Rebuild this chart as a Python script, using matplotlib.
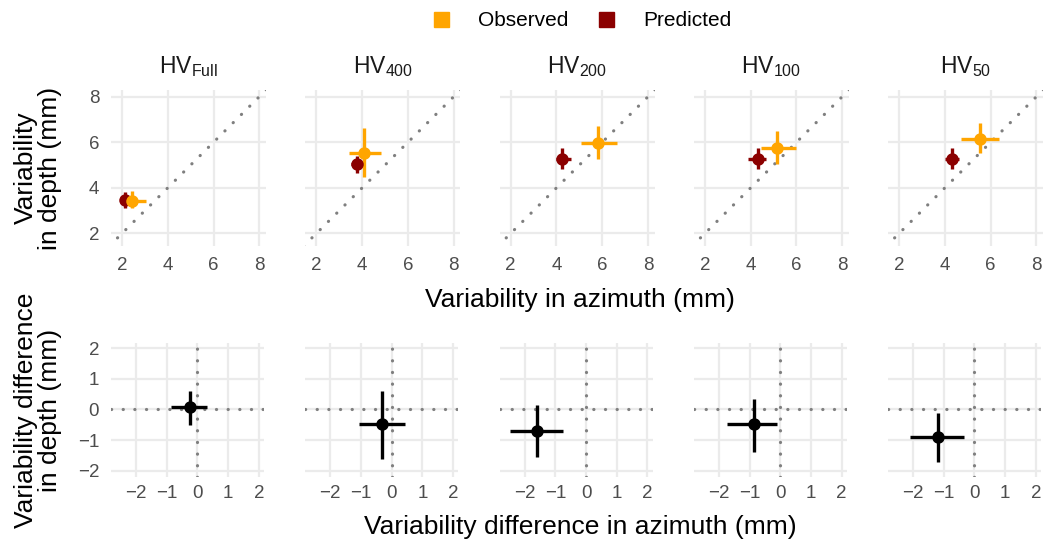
import numpy as np
import matplotlib
matplotlib.use('Agg')
import matplotlib.pyplot as plt
from matplotlib.lines import Line2D

plt.rcParams['font.family'] = ['Liberation Sans', 'DejaVu Sans']
plt.rcParams['mathtext.fontset'] = 'custom'
plt.rcParams['mathtext.rm'] = 'Liberation Sans'
plt.rcParams['mathtext.it'] = 'Liberation Sans'

# data
panels = ['Full', '400', '200', '100', '50']

obs_x = [2.42, 4.07, 5.82, 5.15, 5.53]
obs_x_lo = [2.20, 3.43, 5.05, 4.45, 4.72]
obs_x_hi = [3.03, 4.81, 6.66, 5.97, 6.38]
obs_y = [3.41, 5.51, 5.95, 5.76, 6.14]
obs_y_lo = [3.12, 4.49, 5.26, 5.04, 5.54]
obs_y_hi = [3.85, 6.61, 6.71, 6.51, 6.83]

pred_x = [2.13, 3.78, 4.26, 4.31, 4.29]
pred_x_lo = [1.94, 3.49, 3.97, 3.90, 4.00]
pred_x_hi = [2.35, 4.12, 4.62, 4.68, 4.63]
pred_y = [3.46, 5.04, 5.26, 5.26, 5.26]
pred_y_lo = [3.12, 4.63, 4.81, 4.81, 4.81]
pred_y_hi = [3.80, 5.41, 5.73, 5.73, 5.73]

diff_x = [-0.24, -0.31, -1.58, -0.87, -1.20]
diff_x_lo = [-0.87, -1.08, -2.48, -1.72, -2.11]
diff_x_hi = [0.33, 0.42, -0.74, -0.11, -0.35]
diff_y = [0.07, -0.48, -0.70, -0.48, -0.90]
diff_y_lo = [-0.51, -1.63, -1.57, -1.39, -1.71]
diff_y_hi = [0.61, 0.60, 0.13, 0.34, -0.13]

OBS = '#FFA500'
PRED = '#8B0000'
GRID = '#EBEBEB'
TICK = '#4D4D4D'

W, H = 1044, 547
fig = plt.figure(figsize=(W / 100, H / 100), dpi=100)


def px_axes(x0, y0, w, h):
    return fig.add_axes([x0 / W, 1 - (y0 + h) / H, w / W, h / H])


def style(ax, ticks, xpad):
    ax.set_xticks(ticks)
    ax.set_yticks(ticks)
    ax.grid(True, color=GRID, linewidth=1.6)
    ax.set_axisbelow(True)
    for s in ax.spines.values():
        s.set_visible(False)
    ax.tick_params(length=0, labelsize=13.5, labelcolor=TICK)
    ax.tick_params(axis='x', pad=xpad)
    ax.tick_params(axis='y', pad=8.5)


def errcross(ax, x, xlo, xhi, y, ylo, yhi, color, lw, ms):
    ax.plot([xlo, xhi], [y, y], color=color, lw=lw, solid_capstyle='butt', zorder=3)
    ax.plot([x, x], [ylo, yhi], color=color, lw=lw, solid_capstyle='butt', zorder=3)
    ax.plot([x], [y], 'o', color=color, ms=ms, mec='none', zorder=4)


lefts = [111, 305.4, 499.7, 693.9, 888.1]
dots = dict(color='#7F7F7F', lw=2.3, dashes=(0.05, 3.6), dash_capstyle='round')

for i, p in enumerate(panels):
    ax = px_axes(lefts[i], 90, 155, 155.5)
    ax.set_xlim(1.52, 8.29)
    ax.set_ylim(1.47, 8.29)
    style(ax, [2, 4, 6, 8], 8)
    ax.plot([0, 10], [0, 10], zorder=2, **dots)
    errcross(ax, pred_x[i], pred_x_lo[i], pred_x_hi[i], pred_y[i], pred_y_lo[i], pred_y_hi[i], PRED, 2.4, 9)
    errcross(ax, obs_x[i], obs_x_lo[i], obs_x_hi[i], obs_y[i], obs_y_lo[i], obs_y_hi[i], OBS, 2.4, 9)
    ax.set_title('HV$_{\\rm %s}$' % p, fontsize=16.5, color='#1A1A1A', pad=12)
    if i > 0:
        ax.set_yticklabels([])

    bx = px_axes(lefts[i], 342.5, 153, 134.2)
    bx.set_xlim(-2.81, 2.17)
    bx.set_ylim(-2.2, 2.19)
    style(bx, [-2, -1, 0, 1, 2], 6)
    bx.axhline(0, zorder=2, **dots)
    bx.axvline(0, zorder=2, **dots)
    errcross(bx, diff_x[i], diff_x_lo[i], diff_x_hi[i], diff_y[i], diff_y_lo[i], diff_y_hi[i], 'black', 2.4, 9)
    if i > 0:
        bx.set_yticklabels([])

fig.text(580 / W, 1 - 300 / H, 'Variability in azimuth (mm)', ha='center', va='center', fontsize=19)
fig.text(580 / W, 1 - 527 / H, 'Variability difference in azimuth (mm)', ha='center', va='center', fontsize=19)
fig.text(38 / W, 1 - 168 / H, 'Variability\nin depth (mm)', ha='center', va='center',
         rotation=90, fontsize=19, multialignment='center', linespacing=1.05)
fig.text(38 / W, 1 - 410 / H, 'Variability difference\nin depth (mm)', ha='center', va='center',
         rotation=90, fontsize=19, multialignment='center', linespacing=1.05)

handles = [Line2D([], [], marker='s', ls='none', color=OBS, ms=10.8, label='Observed'),
           Line2D([], [], marker='s', ls='none', color=PRED, ms=10.8, label='Predicted')]
fig.legend(handles=handles, loc='center', bbox_to_anchor=(581 / W, 1 - 21 / H), ncol=2,
           frameon=False, fontsize=15, handletextpad=1.28, columnspacing=1.28, handlelength=1.0)

fig.savefig('out.png', dpi=100)
